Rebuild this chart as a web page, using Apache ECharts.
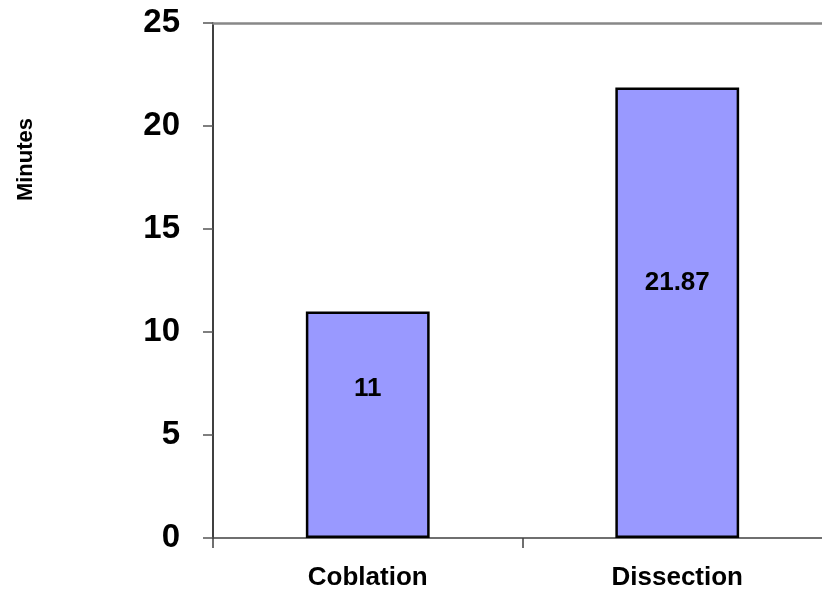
<!DOCTYPE html>
<html>
<head>
<meta charset="utf-8">
<style>
  html, body { margin: 0; padding: 0; background: #fff; overflow: hidden; }
  /* the plot runs a little past the right edge of the window */
  #chart { width: 832px; height: 593px; }
</style>
<script src="https://cdn.jsdelivr.net/npm/echarts@6/dist/echarts.min.js"></script>
</head>
<body>
<div id="chart"></div>
<script>
// Procedure duration by technique
const categories = ['Coblation', 'Dissection'];
const minutes = [11, 21.87];
const yTicks = { min: 0, max: 25, interval: 5 };
const yTitle = 'Minutes';
// vertical nudge of each value label inside its bar
const labelShift = [-36, -30];

const font = 'Arial, "Liberation Sans", Helvetica, sans-serif';

const chart = echarts.init(document.getElementById('chart'));
chart.setOption({
  animation: false,
  backgroundColor: '#ffffff',
  grid: { left: 213, right: 0, top: 23, bottom: 55 },
  xAxis: [{
    type: 'category',
    data: categories,
    axisLine: { lineStyle: { color: '#404040', width: 1.5 } },
    axisTick: { show: true, length: 10, lineStyle: { color: '#404040', width: 1.5 } },
    axisLabel: { margin: 27, color: '#000', fontFamily: font, fontWeight: 'bold', fontSize: 26 }
  }, {
    type: 'category',
    position: 'top',
    data: categories,
    axisLine: { show: true, lineStyle: { color: '#888888', width: 2.5 } },
    axisTick: { show: false },
    axisLabel: { show: false }
  }],
  yAxis: {
    type: 'value',
    min: yTicks.min,
    max: yTicks.max,
    interval: yTicks.interval,
    axisLine: { show: true, lineStyle: { color: '#000', width: 1.5 } },
    axisTick: { show: true, length: 10, lineStyle: { color: '#555', width: 1.5 } },
    splitLine: { show: false },
    axisLabel: { margin: 33, color: '#000', fontFamily: font, fontWeight: 'bold', fontSize: 33 }
  },
  graphic: [{
    type: 'text',
    left: 15,
    top: 118,
    rotation: Math.PI / 2,
    style: {
      text: yTitle,
      fill: '#000',
      font: 'bold 22px ' + font
    }
  }],
  series: [{
    type: 'bar',
    xAxisIndex: 0,
    barWidth: '40%',
    data: minutes.map((v, i) => ({
      value: v,
      label: { offset: [0, labelShift[i]] }
    })),
    itemStyle: { color: '#9999ff', borderColor: '#000', borderWidth: 2.5 },
    label: {
      show: true,
      position: 'inside',
      color: '#000',
      fontFamily: font,
      fontWeight: 'bold',
      fontSize: 26,
      formatter: p => String(p.value)
    }
  }]
});
</script>
</body>
</html>
